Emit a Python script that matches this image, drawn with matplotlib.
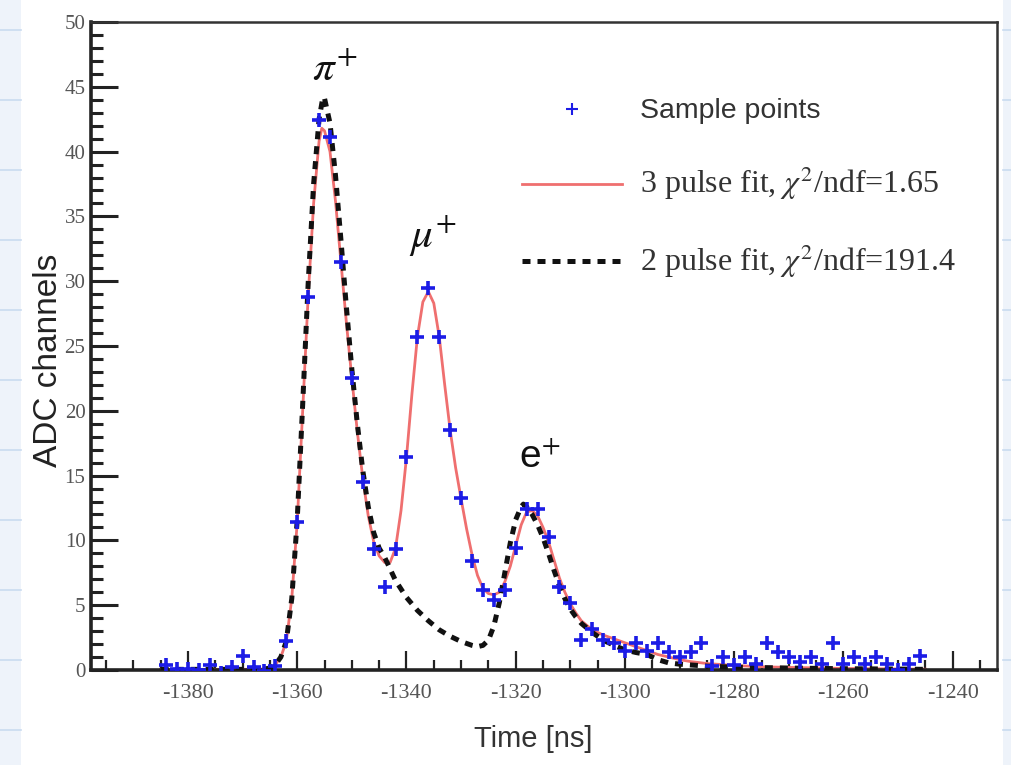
import matplotlib
matplotlib.use("Agg")
import matplotlib.pyplot as plt
from matplotlib.ticker import MultipleLocator, FixedLocator
from matplotlib.patches import Rectangle
from matplotlib.lines import Line2D

plt.rcParams['axes.unicode_minus'] = False
plt.rcParams['mathtext.fontset'] = 'stix'

# Digitised waveform samples (2 ns sampling)
sample_time = [-1384, -1382, -1380, -1378, -1376, -1374, -1372, -1370, -1368, -1366,
               -1364, -1362, -1360, -1358, -1356, -1354, -1352, -1350, -1348, -1346,
               -1344, -1342, -1340, -1338, -1336, -1334, -1332, -1330, -1328, -1326,
               -1324, -1322, -1320, -1318, -1316, -1314, -1312, -1310, -1308, -1306,
               -1304, -1302, -1300, -1298, -1296, -1294, -1292, -1290, -1288, -1286,
               -1284, -1282, -1280, -1278, -1276, -1274, -1272, -1270, -1268, -1266,
               -1264, -1262, -1260, -1258, -1256, -1254, -1252, -1250, -1248, -1246]
sample_adc = [0.4, 0.1, 0.1, 0.0, 0.4, -0.2, 0.2, 1.1, 0.2, -0.1,
              0.3, 2.2, 11.4, 28.8, 42.4, 41.1, 31.5, 22.5, 14.5, 9.3,
              6.4, 9.3, 16.4, 25.7, 29.5, 25.7, 18.5, 13.3, 8.4, 6.2,
              5.4, 6.2, 9.4, 12.4, 12.4, 10.3, 6.4, 5.2, 2.3, 3.2,
              2.3, 2.1, 1.5, 2.1, 1.5, 2.1, 1.4, 1.0, 1.4, 2.1,
              0.3, 1.0, 0.4, 1.0, 0.5, 2.1, 1.4, 1.0, 0.6, 1.0,
              0.5, 2.1, 0.5, 1.0, 0.5, 1.0, 0.5, 0.0, 0.5, 1.1]

# Three-pulse fit curve
fit3_time = [-1385, -1370, -1366, -1365, -1364, -1363, -1362, -1361, -1360, -1359,
             -1358, -1357, -1356, -1355.5, -1355, -1354, -1353, -1352, -1351, -1350,
             -1349, -1348, -1347, -1346, -1345, -1344, -1343, -1342, -1341, -1340,
             -1339, -1338, -1337, -1336, -1335, -1334, -1333, -1332, -1331, -1330,
             -1329, -1328, -1327, -1326, -1325, -1324, -1323, -1322, -1321, -1320,
             -1319, -1318, -1317, -1316, -1315, -1314, -1313, -1312, -1311, -1310,
             -1309, -1308, -1306, -1304, -1302, -1300, -1298, -1296, -1294, -1292,
             -1290, -1288, -1285, -1280, -1275, -1270, -1260, -1250, -1245]
fit3_adc = [0.05, 0.05, 0.08, 0.15, 0.4, 1.0, 2.2, 5.5, 11.4, 20.0,
            28.8, 36.0, 40.8, 41.8, 41.6, 40.0, 36.2, 31.5, 26.8, 22.5,
            18.4, 14.8, 11.9, 9.9, 8.8, 8.3, 8.3, 9.4, 12.3, 16.4,
            21.3, 25.7, 28.4, 29.2, 28.3, 25.7, 22.0, 18.5, 15.6, 13.2,
            10.9, 8.9, 7.3, 6.3, 5.9, 5.8, 6.0, 6.8, 8.0, 9.6,
            11.2, 12.2, 12.3, 11.9, 11.0, 9.9, 8.5, 7.1, 6.0, 5.1,
            4.4, 3.8, 3.1, 2.7, 2.4, 2.1, 1.8, 1.5, 1.2, 1.0,
            0.8, 0.65, 0.5, 0.35, 0.25, 0.2, 0.12, 0.08, 0.06]

# Two-pulse fit curve
fit2_time = [-1385, -1370, -1366, -1365, -1364, -1363, -1362, -1361, -1360, -1359,
             -1358, -1357, -1356, -1355.3, -1355, -1354, -1353, -1352, -1351, -1350,
             -1349, -1348, -1347, -1346, -1345, -1344, -1343, -1342, -1340, -1338,
             -1336, -1334, -1332, -1330, -1328, -1327, -1326, -1325, -1324, -1323,
             -1322, -1321, -1320, -1319, -1318.6, -1318, -1317, -1316, -1315, -1314,
             -1313, -1312, -1311, -1310, -1309, -1308, -1306, -1304, -1302, -1300,
             -1298, -1296, -1294, -1292, -1290, -1285, -1280, -1270, -1260, -1250, -1245]
fit2_adc = [0.05, 0.05, 0.08, 0.15, 0.4, 1.0, 2.2, 5.5, 11.6, 20.5,
            29.8, 37.5, 42.5, 44.2, 44.1, 42.2, 38.2, 33.2, 28.0, 23.2,
            19.0, 15.4, 12.6, 10.6, 9.4, 8.7, 7.8, 6.9, 5.6, 4.6,
            3.8, 3.1, 2.6, 2.2, 1.9, 1.8, 1.9, 2.3, 3.4, 5.2,
            7.5, 9.8, 11.6, 12.6, 12.8, 12.6, 12.0, 11.2, 10.2, 9.0,
            7.7, 6.5, 5.5, 4.7, 4.1, 3.6, 2.9, 2.3, 1.9, 1.55,
            1.35, 1.2, 0.8, 0.55, 0.45, 0.3, 0.22, 0.15, 0.1, 0.07, 0.05]

# Peak labels
peak_labels = [r'$\pi^{+}$', r'$\mu^{+}$', r'e$^{+}$']
peak_label_t = [-1353.1, -1335.1, -1315.6]
peak_label_y = [46.4, 33.5, 16.4]

x_ticks = [-1380, -1360, -1340, -1320, -1300, -1280, -1260, -1240]
y_ticks = [0, 5, 10, 15, 20, 25, 30, 35, 40, 45, 50]

W, H = 1011, 765
fig = plt.figure(figsize=(W / 100, H / 100), dpi=100, facecolor='white')

# pale notebook-style strips at the page edges
for x0, w in [(0, 21), (1003, 8)]:
    fig.patches.append(Rectangle((x0 / W, 0), w / W, 1, transform=fig.transFigure,
                                 facecolor='#eef3fa', edgecolor='none', zorder=-10))
    for yy in range(30, H, 70):
        fig.lines.append(Line2D([x0 / W, (x0 + w) / W], [1 - yy / H] * 2,
                                transform=fig.transFigure, color='#c9dbf0', lw=1.2,
                                zorder=-9))

ax = fig.add_axes([91 / W, 1 - 670 / H, (997 - 91) / W, (670 - 22) / H])
ax.set_xlim(-1397.75, -1231.9)
ax.set_ylim(0, 50)

red = '#ef6f6f'
ax.plot(fit3_time, fit3_adc, color=red, lw=2.0, zorder=2,
        label=r'3 pulse fit, $\chi^{2}$/ndf=1.65')
ax.plot(fit2_time, fit2_adc, color='#111111', lw=3.6, ls=(0, (1.6, 1.4)), zorder=3,
        label=r'2 pulse fit, $\chi^{2}$/ndf=191.4')
pts, = ax.plot(sample_time, sample_adc, ls='none', marker='+', ms=10, mew=2.6,
               color='#1c1ce6', zorder=4, label='Sample points')

for lab, tx, ty in zip(peak_labels, peak_label_t, peak_label_y):
    if lab.startswith('e'):
        ax.text(tx, ty, lab, fontsize=28, family='Liberation Sans',
                ha='center', va='center', color='#111111')
    else:
        ax.text(tx, ty, lab, fontsize=31, ha='center', va='center', color='#111111')

# axes frame and ticks
for side in ['left', 'bottom']:
    ax.spines[side].set_linewidth(2.6)
    ax.spines[side].set_color('#222222')
for side in ['top', 'right']:
    ax.spines[side].set_linewidth(1.8)
    ax.spines[side].set_color('#333333')

ax.xaxis.set_major_locator(FixedLocator(x_ticks))
ax.xaxis.set_minor_locator(MultipleLocator(5))
ax.yaxis.set_major_locator(FixedLocator(y_ticks))
ax.yaxis.set_minor_locator(MultipleLocator(1))
ax.set_xticklabels([str(v) for v in x_ticks])
ax.set_yticklabels([str(v) for v in y_ticks])

ax.tick_params(axis='y', which='major', direction='in', length=19.5, width=2.2,
               color='#222222', pad=4, labelsize=15, labelcolor='#555555')
ax.tick_params(axis='y', which='minor', direction='in', length=8.5, width=2.2,
               color='#222222')
ax.tick_params(axis='x', which='major', direction='in', length=14, width=1.6,
               color='#222222', pad=10, labelsize=16, labelcolor='#555555')
ax.tick_params(axis='x', which='minor', direction='in', length=7, width=1.6,
               color='#222222')
for t in ax.get_xticklabels() + ax.get_yticklabels():
    t.set_family('Liberation Serif')

ax.set_xlabel('Time [ns]', fontsize=21, family='Liberation Sans', color='#333333')
ax.set_ylabel('ADC channels', fontsize=24, family='Liberation Sans', color='#222222')
ax.xaxis.set_label_coords(0.488, -0.085)
ax.yaxis.set_label_coords(-0.030, 0.478)

handles = [pts, ax.lines[0], ax.lines[1]]
leg = ax.legend(handles=handles, loc='upper left', bbox_to_anchor=(0.476, 0.882),
                frameon=False, fontsize=20, handlelength=3.6, handletextpad=0.65,
                labelspacing=1.45, borderpad=0, borderaxespad=0)
texts = leg.get_texts()
texts[0].set_family('Liberation Sans')
texts[0].set_fontsize(20.5)
for t in texts[1:]:
    t.set_family('Liberation Serif')
    t.set_fontsize(23)
for t in texts:
    t.set_color('#333333')
leg.legend_handles[0].set_markersize(8)
leg.legend_handles[0].set_markeredgewidth(1.5)

fig.savefig('out.png', dpi=100, facecolor='white')
